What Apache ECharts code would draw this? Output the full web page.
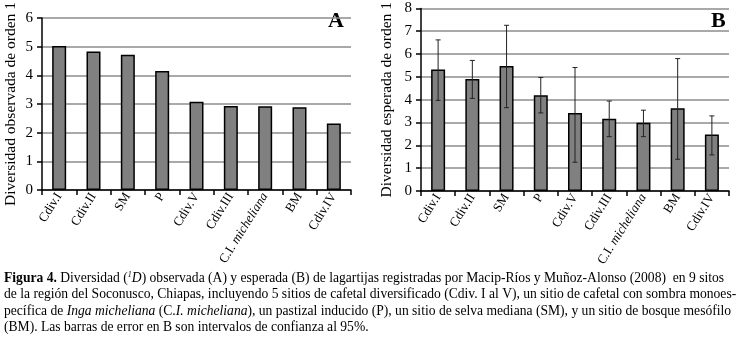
<!DOCTYPE html>
<html>
<head>
<meta charset="utf-8">
<script src="https://cdn.jsdelivr.net/npm/echarts@6/dist/echarts.min.js"></script>
<style>
html,body{margin:0;padding:0;background:#fff;}
#main{width:741px;height:337px;}
</style>
</head>
<body>
<div id="main"></div>
<script>
var categories = ['Cdiv.I', 'Cdiv.II', 'SM', 'P', 'Cdiv.V', 'Cdiv.III', 'C.I. micheliana', 'BM', 'Cdiv.IV'];
// A: diversidad observada
var observed = [5.02, 4.83, 4.72, 4.15, 3.08, 2.93, 2.92, 2.89, 2.32];
// B: diversidad esperada + IC 95%
var expected = [5.32, 4.91, 5.48, 4.20, 3.42, 3.16, 2.99, 3.62, 2.48];
var expLow = [3.97, 4.06, 3.65, 3.42, 1.26, 2.38, 2.38, 1.39, 1.58];
var expHigh = [6.62, 5.72, 7.26, 4.97, 5.41, 3.94, 3.54, 5.80, 3.29];

var SERIF = '"Liberation Serif", serif';
var chart = echarts.init(document.getElementById('main'));

function xLabelFmt(v) {
    if (v == 'C.I. micheliana') return '{n|C.I. }{i|micheliana}';
    return '{n|' + v + '}';
}

function xAxisCfg(idx) {
    return {
        type: 'category', gridIndex: idx, data: categories,
        axisLine: {lineStyle: {color: '#000', width: 1.5}},
        axisTick: {show: true, length: 5, lineStyle: {color: '#000', width: 1.5}},
        axisLabel: {
            rotate: 58, interval: 0, margin: 4, formatter: xLabelFmt,
            rich: {
                n: {fontFamily: SERIF, fontSize: 13, color: '#000'},
                i: {fontFamily: SERIF, fontSize: 13, color: '#000', fontStyle: 'italic'}
            }
        }
    };
}

function yAxisCfg(idx, max, name, gap) {
    return {
        type: 'value', gridIndex: idx, min: 0, max: max, interval: 1,
        name: name, nameLocation: 'middle', nameGap: gap,
        nameTextStyle: {fontFamily: SERIF, fontSize: 15.5, color: '#000'},
        axisLine: {show: true, lineStyle: {color: '#000', width: 1.5}},
        axisTick: {show: true, inside: false, length: 5, lineStyle: {color: '#000', width: 1.5}},
        axisLabel: {fontFamily: SERIF, fontSize: 15, color: '#000', margin: 9},
        splitLine: {lineStyle: {color: '#8c8c8c', width: 1.5}}
    };
}

var barStyle = {color: '#808080', borderColor: '#000', borderWidth: 1.5};

var errData = categories.map(function (c, i) { return [i, expLow[i], expHigh[i]]; });

function renderErr(params, api) {
    var lo = api.coord([api.value(0), api.value(1)]);
    var hi = api.coord([api.value(0), api.value(2)]);
    var w = 2.5;
    var st = {stroke: '#222', lineWidth: 1};
    return {
        type: 'group',
        children: [
            {type: 'line', shape: {x1: lo[0], y1: lo[1], x2: hi[0], y2: hi[1]}, style: st},
            {type: 'line', shape: {x1: lo[0] - w, y1: lo[1], x2: lo[0] + w, y2: lo[1]}, style: st},
            {type: 'line', shape: {x1: hi[0] - w, y1: hi[1], x2: hi[0] + w, y2: hi[1]}, style: st}
        ]
    };
}

// caption lines
var captionLines = [
    '{b|Figura 4.} Diversidad ({s|1}{i|D}) observada (A) y esperada (B) de lagartijas registradas por Macip-Ríos y Muñoz-Alonso (2008)  en 9 sitos',
    'de la región del Soconusco, Chiapas, incluyendo 5 sitios de cafetal diversificado (Cdiv. I al V), un sitio de cafetal con sombra monoes-',
    'pecífica de {i|Inga micheliana} (C.{i|I. micheliana}), un pastizal inducido (P), un sitio de selva mediana (SM), y un sitio de bosque mesófilo',
    '(BM). Las barras de error en B son intervalos de confianza al 95%.'
];
var CAP = 13.6;
var capRich = {
    b: {fontFamily: SERIF, fontSize: CAP, fontWeight: 'bold', color: '#000'},
    i: {fontFamily: SERIF, fontSize: CAP, fontStyle: 'italic', color: '#000'},
    s: {fontFamily: SERIF, fontSize: 8, fontStyle: 'italic', color: '#000', verticalAlign: 'top', padding: [0, 0, 5, 0]}
};
var graphics = captionLines.map(function (t, i) {
    return {
        type: 'text', left: 4, top: 271 + i * 16.5,
        style: {text: t, fontFamily: SERIF, fontSize: CAP, fill: '#000', rich: capRich}
    };
});
graphics.push({type: 'text', left: 328, top: 10,
    style: {text: 'A', fontFamily: SERIF, fontSize: 22, fontWeight: 'bold', fill: '#000'}});
graphics.push({type: 'text', left: 711, top: 10,
    style: {text: 'B', fontFamily: SERIF, fontSize: 22, fontWeight: 'bold', fill: '#000'}});

var option = {
    backgroundColor: '#fff',
    animation: false,
    textStyle: {fontFamily: SERIF},
    grid: [
        {left: 42, top: 5, width: 309, height: 185},
        {left: 421, top: 5, width: 308, height: 186}
    ],
    xAxis: [xAxisCfg(0), xAxisCfg(1)],
    yAxis: [
        yAxisCfg(0, 6, 'Diversidad observada de orden 1', 23),
        yAxisCfg(1, 8, 'Diversidad esperada de orden 1', 26)
    ],
    series: [
        {type: 'bar', xAxisIndex: 0, yAxisIndex: 0, data: observed, barWidth: 14, itemStyle: barStyle},
        {type: 'bar', xAxisIndex: 1, yAxisIndex: 1, data: expected, barWidth: 14, itemStyle: barStyle},
        {type: 'custom', xAxisIndex: 1, yAxisIndex: 1, data: errData, renderItem: renderErr, z: 5}
    ],
    graphic: graphics
};
chart.setOption(option);
</script>
</body>
</html>
